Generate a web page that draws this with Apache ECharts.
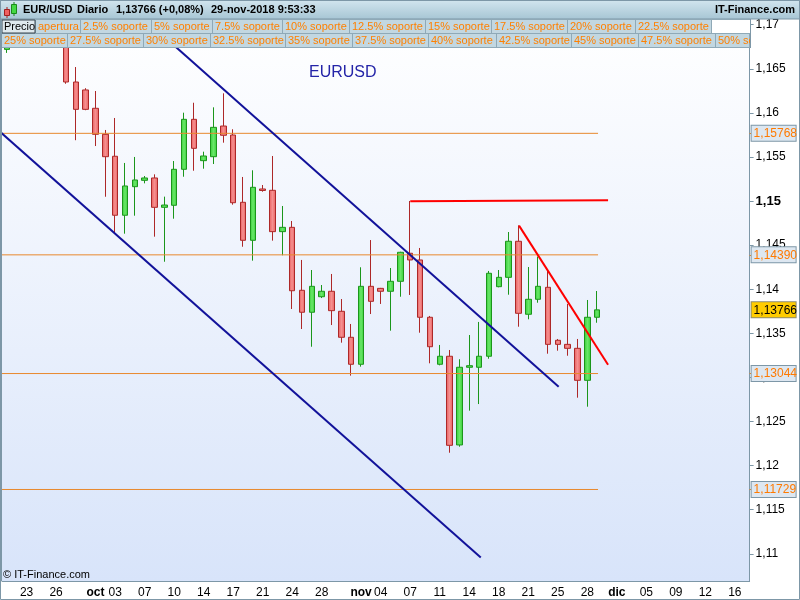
<!DOCTYPE html>
<html><head><meta charset="utf-8">
<script src="https://cdn.jsdelivr.net/npm/echarts@6/dist/echarts.min.js"></script>
<style>html,body{margin:0;padding:0;background:#fff}#c{width:800px;height:600px}</style>
</head><body><div id="c"></div>
<script>
// ---------- data ----------
const categories = ['09-20','09-21','09-23','09-24','09-25','09-26','09-27','09-28','09-30',
 '10-01','10-02','10-03','10-04','10-05','10-07','10-08','10-09','10-10','10-11','10-12','10-14','10-15','10-16','10-17','10-18','10-19','10-21','10-22','10-23','10-24','10-25','10-26','10-28','10-29','10-30','10-31',
 '11-01','11-02','11-04','11-05','11-06','11-07','11-08','11-09','11-11','11-12','11-13','11-14','11-15','11-16','11-18','11-19','11-20','11-21','11-22','11-23','11-25','11-26','11-27','11-28','11-29','11-30',
 '12-02','12-03','12-04','12-05','12-06','12-07','12-09','12-10','12-11','12-12','12-13','12-14','12-16','12-17'];

const openP  = [1.1672,1.1775,1.1746,1.1748,1.1747,1.1771,1.1737,1.1635,1.1626,
 1.16052,1.15757,1.15508,1.14839,1.15163,1.15235,1.15262,1.14929,1.14952,1.1536,1.15927,1.15458,1.15503,1.15851,1.15749,1.14986,1.14555,1.15137,1.15122,1.14653,1.14702,1.13988,1.13739,1.13915,1.13977,1.1375,1.13455,
 1.13149,1.14033,1.1401,1.13977,1.1409,1.14408,1.14332,1.13682,1.13149,1.1324,1.12234,1.13115,1.13115,1.1324,1.14029,1.14135,1.14544,1.13716,1.13886,1.14022,1.13421,1.13375,1.1333,1.12967,1.13682];
const highP  = [1.1790,1.1803,1.1752,1.1815,1.1794,1.1794,1.1760,1.1652,1.1628,
 1.16248,1.15806,1.15942,1.15432,1.15500,1.15284,1.15303,1.15050,1.15454,1.16002,1.16115,1.15560,1.16063,1.16222,1.15814,1.15273,1.15349,1.15182,1.15511,1.14944,1.14774,1.14332,1.14218,1.14048,1.14173,1.13889,1.13606,
 1.14249,1.14558,1.14015,1.14241,1.14425,1.15001,1.14468,1.13697,1.13368,1.13311,1.13206,1.13481,1.13629,1.14207,1.14218,1.14649,1.14725,1.14252,1.14370,1.14218,1.13436,1.13833,1.13436,1.13878,1.13980];
const lowP   = [1.1668,1.1722,1.1740,1.1732,1.1736,1.1720,1.1633,1.1569,1.1603,
 1.15624,1.15049,1.14634,1.14630,1.14834,1.15201,1.14596,1.14312,1.14800,1.15276,1.15344,1.15367,1.15420,1.15662,1.14959,1.14482,1.14324,1.15106,1.14551,1.14385,1.13776,1.13549,1.13348,1.13900,1.13594,1.13394,1.13020,
 1.13122,1.13719,1.13833,1.13530,1.13915,1.13935,1.13507,1.13160,1.13137,1.12146,1.12214,1.12623,1.12698,1.13212,1.14022,1.13938,1.13575,1.13659,1.13847,1.13269,1.13303,1.13246,1.12770,1.12668,1.13620];
const closeP = [1.1775,1.1746,1.1748,1.1747,1.1771,1.1737,1.1635,1.1604,1.1604,
 1.15757,1.15503,1.14839,1.15171,1.15239,1.15262,1.14929,1.14955,1.15360,1.15927,1.15598,1.15511,1.15836,1.15746,1.14981,1.14555,1.15156,1.15120,1.14653,1.14702,1.13983,1.13739,1.14033,1.13977,1.13757,1.13455,1.13149,
 1.14033,1.13863,1.13977,1.14090,1.14419,1.14332,1.13682,1.13348,1.13240,1.12230,1.13115,1.13133,1.13240,1.14181,1.14135,1.14544,1.13727,1.13886,1.14033,1.13375,1.13375,1.13330,1.12967,1.13682,1.13766];

const yTicks = [1.11,1.115,1.12,1.125,1.13,1.135,1.14,1.145,1.15,1.155,1.16,1.165,1.17];
const levelValues = [1.15768,1.14390,1.13044,1.11729];
const lastPrice = 1.13766;

const tickDates = ['09-23','09-26','10-01','10-03','10-07','10-10','10-14','10-17','10-21','10-24','10-28','11-01','11-04','11-07','11-11','11-14','11-18','11-21','11-25','11-28','12-02','12-05','12-09','12-12','12-16'];
const tickTexts = ['23','26','oct','03','07','10','14','17','21','24','28','nov','04','07','11','14','18','21','25','28','dic','05','09','12','16'];
const monthTexts = ['oct','nov','dic'];

// drawn trend lines: [slot index, price]
const blueUpper = [[13, 1.17160],[56.09, 1.12895]];
const blueLower = [[-1, 1.15815],[48.17, 1.10959]];
const redFlat   = [[41.0, 1.14998],[61.11, 1.15010]];
const redDiag   = [[52.06, 1.14721],[61.11, 1.13144]];
const levelEnd = 60.09;

const legendRow1 = ['Precio','apertura','2.5% soporte','5% soporte','7.5% soporte','10% soporte','12.5% soporte','15% soporte','17.5% soporte','20% soporte','22.5% soporte'];
const legendRow2 = ['25% soporte','27.5% soporte','30% soporte','32.5% soporte','35% soporte','37.5% soporte','40% soporte','42.5% soporte','45% soporte','47.5% soporte','50% soporte'];

// ---------- layout ----------
const FONT = 'Liberation Sans, Arial, sans-serif';
const row1Edges = [2,36,81,152,213,283,350,426,492,568,636,712];
const row2Edges = [2,68,144,211,286,353,429,497,572,639,716,750];
const Y_MIN = 1.106913, Y_MAX = 1.170646;

const chart = echarts.init(document.getElementById('c'), null, {renderer:'canvas'});

const graphics = [];
function add(el, z) { el.z = z; graphics.push(el); }

function legendCells(edges, labels, y, h, firstSpecial) {
  labels.forEach((t, i) => {
    const x0 = edges[i];
    const x1 = Math.min(i + 1 < edges.length ? edges[i+1] : 750, 750);
    const special = firstSpecial && i === 0;
    add({type:'rect', shape:{x:x0, y:y, width:x1-x0-1, height:h},
      style:{fill: special ? '#dfe9ee' : '#c2d7e1', stroke: special ? '#3a4650' : '#c2d7e1', lineWidth: special ? 1 : 0}}, 21);
    add({type:'text', x:x0+2, y:y+h/2+0.5,
      style:{text:t, font:'11px ' + FONT, fill: special ? '#000' : '#ff8000', verticalAlign:'middle', align:'left'}}, 22);
  });
}

// header
add({type:'rect', shape:{x:0,y:0,width:800,height:19},
  style:{fill:new echarts.graphic.LinearGradient(0,0,0,1,[{offset:0,color:'#d3e6ef'},{offset:1,color:'#a6c5d4'}]), stroke:'#7d97a7', lineWidth:1}}, 20);
// small icon
add({type:'line', shape:{x1:7,y1:7,x2:7,y2:18}, style:{stroke:'#a02020',lineWidth:1}}, 21);
add({type:'rect', shape:{x:4.5,y:9.5,width:5,height:6}, style:{fill:'#ee6060',stroke:'#a02020',lineWidth:1}}, 22);
add({type:'line', shape:{x1:14,y1:2,x2:14,y2:16}, style:{stroke:'#1a8a1a',lineWidth:1}}, 21);
add({type:'rect', shape:{x:11.5,y:4.5,width:5,height:9}, style:{fill:'#44d844',stroke:'#1a8a1a',lineWidth:1}}, 22);
const headerFont = 'bold 11px ' + FONT;
[['EUR/USD',23],['Diario',77],['1,13766 (+0,08%)',116],['29-nov-2018 9:53:33',211]].forEach(([t,x]) => {
  add({type:'text', x:x, y:10, style:{text:t, font:headerFont, fill:'#000', verticalAlign:'middle'}}, 22);
});
add({type:'text', x:795, y:10, style:{text:'IT-Finance.com', font:headerFont, fill:'#000', verticalAlign:'middle', align:'right'}}, 22);
// legend
add({type:'rect', shape:{x:1,y:19,width:749,height:29}, style:{fill:'#8fa9b7'}}, 20);
legendCells(row1Edges, legendRow1, 20, 13, true);
add({type:'rect', shape:{x:712,y:20,width:38,height:13}, style:{fill:'#ffffff'}}, 21);
legendCells(row2Edges, legendRow2, 34, 13, false);
add({type:'rect', shape:{x:751,y:33,width:48,height:15}, style:{fill:'#ffffff'}}, 23);
// titles
add({type:'text', x:309, y:73, style:{text:'EURUSD', font:'16px ' + FONT, fill:'#2424a8', verticalAlign:'middle'}}, 22);
add({type:'text', x:3, y:575, style:{text:'\u00a9 IT-Finance.com', font:'11px ' + FONT, fill:'#000', verticalAlign:'middle'}}, 22);
// frame
add({type:'rect', shape:{x:0.5,y:0.5,width:799,height:599}, style:{fill:null, stroke:'#7d97a7', lineWidth:1}}, 30);
add({type:'line', shape:{x1:1.5,y1:19,x2:1.5,y2:581}, style:{stroke:'#7d97a7', lineWidth:1}}, 30);
add({type:'line', shape:{x1:750.5,y1:19,x2:750.5,y2:48}, style:{stroke:'#7d97a7', lineWidth:1}}, 30);

function fmtTick(v) {
  const s = (+v.toFixed(3)).toString().replace('.', ',');
  return Math.abs(v - 1.15) < 1e-9 ? '{b|' + s + '}' : s;
}

const lineSeries = (data, color, width, z) => ({
  type:'line', xAxisIndex:1, yAxisIndex:0, data:data, showSymbol:false, symbol:'none',
  lineStyle:{color:color, width:width}, z:z, silent:true, clip:true
});

const option = {
  animation:false,
  backgroundColor:'#ffffff',
  grid:{left:2, right:50, top:19, bottom:19, show:true, borderWidth:0,
    backgroundColor:new echarts.graphic.LinearGradient(0,0,0,1,[{offset:0,color:'#ffffff'},{offset:1,color:'#d8e4fa'}])},
  xAxis:[{
    type:'category', data:categories, boundaryGap:true,
    axisLine:{onZero:false, lineStyle:{color:'#7d97a7'}},
    axisTick:{alignWithLabel:true, length:4, lineStyle:{color:'#7d97a7'},
      interval:(i, v) => tickDates.indexOf(v) >= 0},
    axisLabel:{interval:(i, v) => tickDates.indexOf(v) >= 0, margin:6, color:'#000', fontSize:12, fontFamily:FONT,
      formatter:(v) => { const k = tickDates.indexOf(v); const t = k >= 0 ? tickTexts[k] : ''; return monthTexts.indexOf(t) >= 0 ? '{m|' + t + '}' : t; },
      rich:{m:{fontWeight:'bold', fontSize:12, fontFamily:FONT, color:'#000'}}},
    splitLine:{show:false}
  },{
    type:'value', min:-0.5, max:75.5, show:false,
    axisLine:{show:false, onZero:false}, axisTick:{show:false}, axisLabel:{show:false}, splitLine:{show:false}
  }],
  yAxis:[{
    type:'value', position:'right', min:Y_MIN, max:Y_MAX, scale:true,
    axisLine:{show:true, onZero:false, lineStyle:{color:'#7d97a7'}},
    axisTick:{show:true, length:4, lineStyle:{color:'#7d97a7'}, customValues:yTicks},
    axisLabel:{customValues:yTicks, margin:6, color:'#000', fontSize:12, fontFamily:FONT, formatter:fmtTick,
      rich:{b:{fontWeight:'bold', fontSize:13, fontFamily:FONT, color:'#000'}}},
    splitLine:{show:false}
  },{
    type:'value', position:'right', min:Y_MIN, max:Y_MAX, scale:true, z:5,
    axisLine:{show:false, onZero:false},
    axisTick:{show:true, length:3, lineStyle:{color:'#ff8000'}, customValues:levelValues},
    axisLabel:{customValues:levelValues.concat([lastPrice]), margin:2, fontSize:12, fontFamily:FONT,
      formatter:(v) => { const s = v.toFixed(5).replace('.', ','); return Math.abs(v - lastPrice) < 1e-9 ? '{cur|' + s + '}' : '{lvl|' + s + '}'; },
      rich:{
        lvl:{color:'#ff7a00', fontSize:12, fontFamily:FONT, backgroundColor:'#dde7f1', borderColor:'#7d97a7', borderWidth:1, padding:[2,1,1,2], width:41, lineHeight:12},
        cur:{color:'#000', fontSize:12, fontFamily:FONT, backgroundColor:'#ffcc00', borderColor:'#8a8a70', borderWidth:1, padding:[2,1,1,2], width:41, lineHeight:12}
      }},
    splitLine:{show:false}
  }],
  graphic:{elements:graphics},
  series:[
    {
      type:'candlestick', xAxisIndex:0, yAxisIndex:0, z:2,
      data:openP.map((o, i) => [o, closeP[i], lowP[i], highP[i]]),
      barWidth:6,
      itemStyle:{
        color:new echarts.graphic.LinearGradient(0,0,1,0,[{offset:0,color:'#33cf33'},{offset:0.5,color:'#6ae66a'},{offset:1,color:'#33cf33'}]),
        color0:new echarts.graphic.LinearGradient(0,0,1,0,[{offset:0,color:'#e85c5c'},{offset:0.5,color:'#f59090'},{offset:1,color:'#e85c5c'}]),
        borderColor:'#1b961b', borderColor0:'#ad2828', borderWidth:1
      }
    }
  ].concat(levelValues.map(v => lineSeries([[-0.5, v],[levelEnd, v]], '#e8892e', 1, 3)))
   .concat([
     lineSeries(blueUpper, '#12129a', 2, 4),
     lineSeries(blueLower, '#12129a', 2, 4),
     lineSeries(redFlat, '#ff0000', 2, 4),
     lineSeries(redDiag, '#ff0000', 2, 4)
   ])
};
chart.setOption(option);
</script></body></html>
